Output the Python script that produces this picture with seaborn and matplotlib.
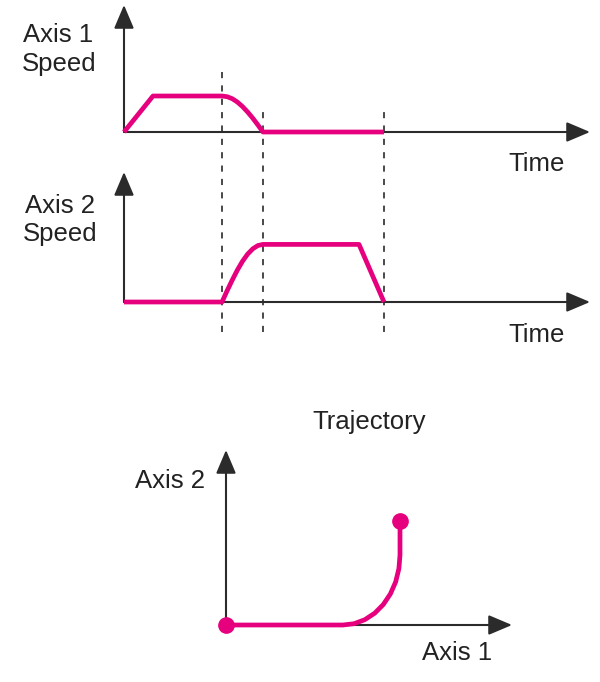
import matplotlib
matplotlib.use("Agg")
import matplotlib.pyplot as plt
import seaborn as sns
import pandas as pd

# ---------------- data ----------------
axis1_time = [0, 2.9, 9.8, 10.31, 10.83, 11.34, 11.85, 12.36, 12.88, 13.39, 13.9, 26.0]
axis1_speed = [0, 1.0, 1.0, 0.981, 0.924, 0.831, 0.707, 0.556, 0.383, 0.195, 0.0, 0.0]

axis2_time = [0, 9.8, 10.31, 10.83, 11.34, 11.85, 12.36, 12.88, 13.39, 13.9, 23.5, 26.0]
axis2_speed = [0, 0, 0.312, 0.612, 0.889, 1.131, 1.330, 1.478, 1.569, 1.6, 1.6, 0.0]

event_times = [9.8, 13.9, 26.0]

traj_axis1 = [0, 11.7, 12.81, 13.88, 14.87, 15.73, 16.44, 16.97, 17.29, 17.4, 17.4]
traj_axis2 = [0, 0, 0.13, 0.53, 1.18, 2.05, 3.11, 4.32, 5.64, 7.0, 10.4]

labels_axis1 = ["Axis 1", "Speed"]
labels_axis2 = ["Axis 2", "Speed"]
time_label = "Time"
traj_title = "Trajectory"
traj_xlabel = "Axis 1"
traj_ylabel = "Axis 2"

# ---------------- style ----------------
sns.set_theme(style="white")
plt.rcParams["font.family"] = ["Liberation Sans", "DejaVu Sans"]

MAG = "#E6007E"
AXC = "#2b2b2b"
TXT = "#222222"
W, H = 600, 682
FS = 18.5

fig = plt.figure(figsize=(W / 100, H / 100), dpi=100)


def px_axes(left, right, bottom, top):
    ax = fig.add_axes([left / W, 1 - bottom / H, (right - left) / W, (bottom - top) / H])
    ax.set_facecolor("none")
    for s in ax.spines.values():
        s.set_visible(False)
    ax.set_xticks([])
    ax.set_yticks([])
    return ax


def draw_arrows(ax):
    ap = dict(arrowstyle="-|>,head_length=0.85,head_width=0.36", color=AXC, lw=1.5,
              shrinkA=0, shrinkB=0, mutation_scale=17)
    ax.annotate("", xy=(1, 0), xytext=(0, 0), xycoords="axes fraction",
                textcoords="axes fraction", arrowprops=ap, zorder=2)
    ax.annotate("", xy=(0, 1), xytext=(0, 0), xycoords="axes fraction",
                textcoords="axes fraction", arrowprops=ap, zorder=2)


def ftext(x, y, s, **kw):
    fig.text(x / W, 1 - y / H, s, ha="center", va="baseline", fontsize=FS, color=TXT, **kw)


line_kw = dict(color=MAG, linewidth=3.4, sort=False, estimator=None, legend=False,
               zorder=5, clip_on=False, solid_joinstyle="round", solid_capstyle="butt")

# ---- panel 1 ----
ax1 = px_axes(124, 590, 132, 5)
ax1.set_xlim(0, 46.6)
ax1.set_ylim(0, 127 / 36)
draw_arrows(ax1)
df1 = pd.DataFrame({"t": axis1_time, "v": axis1_speed})
sns.lineplot(data=df1, x="t", y="v", ax=ax1, **line_kw)
ax1.set_xlabel("")
ax1.set_ylabel("")

# dashed event lines spanning panels 1 & 2
tops = [70, 105, 105]
for t, top in zip(event_times, tops):
    ax1.axvline(t, ymin=(132 - 332) / 127, ymax=(132 - top) / 127, color="#3a3a3a",
                lw=1.3, dashes=(3.4, 4.0), clip_on=False, zorder=1)

# ---- panel 2 ----
ax2 = px_axes(124, 590, 302, 172)
ax2.set_xlim(0, 46.6)
ax2.set_ylim(0, 130 / 36)
draw_arrows(ax2)
df2 = pd.DataFrame({"t": axis2_time, "v": axis2_speed})
sns.lineplot(data=df2, x="t", y="v", ax=ax2, **line_kw)
ax2.set_xlabel("")
ax2.set_ylabel("")

# ---- panel 3 ----
ax3 = px_axes(226, 512, 625, 450)
ax3.set_xlim(0, 28.6)
ax3.set_ylim(0, 17.5)
draw_arrows(ax3)
df3 = pd.DataFrame({"a1": traj_axis1, "a2": traj_axis2})
sns.lineplot(data=df3, x="a1", y="a2", ax=ax3, **line_kw)
ax3.plot([traj_axis1[0], traj_axis1[-1]], [traj_axis2[0], traj_axis2[-1]], "o",
         color=MAG, markersize=11, clip_on=False, zorder=6)
ax3.set_xlabel("")
ax3.set_ylabel("")

# ---- texts ----
ftext(58, 42, labels_axis1[0])
ftext(59, 71, labels_axis1[1])
ftext(537, 171, time_label)
ftext(60, 213, labels_axis2[0])
ftext(60, 241, labels_axis2[1])
ftext(537, 342, time_label)
ftext(369.5, 429, traj_title)
ftext(170, 488, traj_ylabel)
ftext(457, 660, traj_xlabel)

fig.savefig("out.png", dpi=100)
